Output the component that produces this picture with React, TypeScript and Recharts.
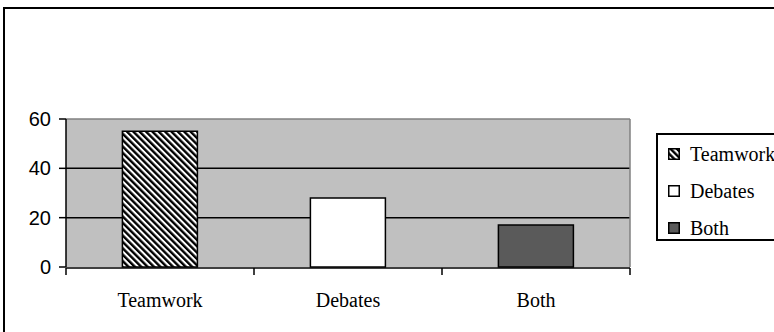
import React from 'react';
import { BarChart, Bar, Cell, XAxis, YAxis, CartesianGrid, ReferenceLine } from 'recharts';

const categories = ['Teamwork', 'Debates', 'Both'];
const values = [55, 28, 17];
const yTicks = [0, 20, 40, 60];
const boundaryTicks = [0, 1, 2, 3];
const fills = ['url(#hatch)', '#ffffff', '#5a5a5a'];

const data = categories.map((name, i) => ({ name, value: values[i], slot: i + 0.5 }));

const serif = '"Liberation Serif", "Times New Roman", serif';
const sans = '"Liberation Sans", Arial, sans-serif';

const LegendBox: React.FC = () => (
  <div
    style={{
      position: 'absolute', left: 656, top: 133, width: 140, height: 108,
      border: '2px solid #000', background: '#fff', boxSizing: 'border-box',
      fontFamily: serif, fontSize: 20, color: '#000',
    }}
  >
    {categories.map((c, i) => (
      <div key={c} style={{ position: 'absolute', left: 10, top: 6 + i * 37, height: 26, display: 'flex', alignItems: 'center' }}>
        <svg width={12} height={12} style={{ marginRight: 10 }}>
          <defs>
            <pattern id={`lh${i}`} patternUnits="userSpaceOnUse" width={4.5} height={4.5} patternTransform="rotate(-45)">
              <rect width={4.5} height={4.5} fill="#fff" />
              <rect width={2.4} height={4.5} fill="#000" />
            </pattern>
          </defs>
          <rect x={0.75} y={0.75} width={10.5} height={10.5} fill={i === 0 ? `url(#lh${i})` : fills[i]} stroke="#000" strokeWidth={1.5} />
        </svg>
        <span>{c}</span>
      </div>
    ))}
  </div>
);

const App: React.FC = () => (
  <div style={{ position: 'absolute', left: 0, top: 0, width: 774, height: 332, overflow: 'hidden', background: '#fff' }}>
    <div style={{ position: 'absolute', left: 3, top: 7, width: 820, height: 420, border: '2px solid #000', boxSizing: 'border-box' }} />
    <div style={{ position: 'absolute', left: 0, top: 0 }}>
      <BarChart width={774} height={332} data={data} margin={{ top: 119, right: 144, left: 26, bottom: 0 }} barCategoryGap="30%">
        <defs>
          <pattern id="hatch" patternUnits="userSpaceOnUse" width={4.5} height={4.5} patternTransform="rotate(-45)">
            <rect width={4.5} height={4.5} fill="#fff" />
            <rect width={2.4} height={4.5} fill="#000" />
          </pattern>
        </defs>
        <CartesianGrid xAxisId="grid" vertical={false} fill="#c0c0c0" stroke="#000" strokeWidth={1.5} horizontalValues={[20, 40]} />
        <XAxis
          xAxisId="grid"
          dataKey="slot"
          type="number"
          domain={[0, 3]}
          ticks={boundaryTicks}
          interval={0}
          height={64}
          axisLine={{ stroke: '#000', strokeWidth: 1.5 }}
          tickLine={{ stroke: '#000', strokeWidth: 1.5 }}
          tickSize={7}
          tick={() => <g />}
        />
        <XAxis
          xAxisId="cat"
          dataKey="name"
          height={1}
          axisLine={false}
          tickLine={false}
          tickSize={0}
          tickMargin={26}
          tick={{ fill: '#000', fontSize: 20, fontFamily: serif }}
        />
        <YAxis
          width={40}
          domain={[0, 60]}
          ticks={yTicks}
          axisLine={{ stroke: '#000', strokeWidth: 1.5 }}
          tickLine={{ stroke: '#000', strokeWidth: 1.5 }}
          tickSize={7}
          tickMargin={8}
          tick={{ fill: '#000', fontSize: 20, fontFamily: sans }}
        />
        <ReferenceLine y={60} xAxisId="grid" stroke="#808080" strokeWidth={1.5} />
        <ReferenceLine x={3} xAxisId="grid" stroke="#808080" strokeWidth={1.5} />
        <Bar dataKey="value" xAxisId="cat" stroke="#000" strokeWidth={1.5} isAnimationActive={false}>
          {data.map((d, i) => (
            <Cell key={d.name} fill={fills[i]} />
          ))}
        </Bar>
      </BarChart>
    </div>
    <LegendBox />
  </div>
);

export default App;
